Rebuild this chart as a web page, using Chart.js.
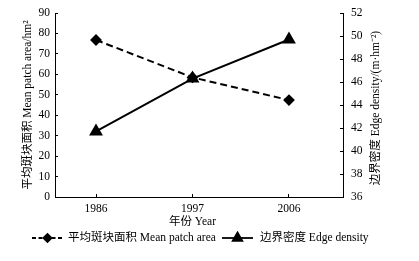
<!DOCTYPE html>
<html lang="zh">
  <head>
    <meta charset="UTF-8" />
    <title>Mean patch area and edge density</title>
    <script src="https://cdn.jsdelivr.net/npm/chart.js"></script>
    <style>
      html, body { margin: 0; padding: 0; background: #fff; }
      #wrap { width: 419px; height: 261px; }
    </style>
  </head>
  <body>
    <div id="wrap"><canvas id="chart"></canvas></div>
    <script>
      // values
      const years = ["1986", "1997", "2006"];
      const meanPatchArea = [76.8, 58.5, 47.4];
      const edgeDensity = [41.7, 46.3, 49.7];

      const leftTitle = "平均斑块面积 Mean patch area/hm²";
      const rightTitle = "边界密度 Edge density/(m·hm⁻²)";
      const xTitle = "年份 Year";
      const seriesNames = ["平均斑块面积 Mean patch area", "边界密度 Edge density"];

      const FONT = "'Liberation Serif', 'Noto Sans CJK SC', serif";

      // x title, right title (reads bottom-up like the left one) and legend
      const extraText = {
        id: "extraText",
        afterDraw(chart) {
          const { ctx, chartArea } = chart;
          const x = chart.scales.x;
          ctx.save();
          ctx.fillStyle = "#000";
          ctx.font = "11.5px " + FONT;
          ctx.textBaseline = "middle";
          ctx.textAlign = "center";
          const cx = (x.getPixelForValue(0) + x.getPixelForValue(2)) / 2;
          ctx.fillText(xTitle, cx, 222);

          ctx.save();
          ctx.translate(376, (chartArea.top + chartArea.bottom) / 2 + 3);
          ctx.rotate(-Math.PI / 2);
          ctx.fillText(rightTitle, 0, 0);
          ctx.restore();

          // legend
          const ly = 238;
          const items = [
            { x0: 32, x1: 63, text: 68, dash: [4, 2.5], ds: chart.data.datasets[0] },
            { x0: 222, x1: 253, text: 260, dash: [], ds: chart.data.datasets[1] },
          ];
          items.forEach((it, i) => {
            ctx.strokeStyle = "#000";
            ctx.lineWidth = 1.8;
            ctx.setLineDash(it.dash);
            ctx.beginPath();
            ctx.moveTo(it.x0, ly);
            ctx.lineTo(it.x1, ly);
            ctx.stroke();
            ctx.setLineDash([]);
            Chart.helpers.drawPoint(ctx, {
              pointStyle: it.ds.pointStyle,
              radius: it.ds.pointRadius - 0.5,
              borderWidth: 1,
              rotation: 0,
            }, (it.x0 + it.x1) / 2, ly);
            ctx.fillStyle = "#000";
            ctx.fill();
            ctx.textAlign = "left";
            ctx.fillText(seriesNames[i], it.text, ly);
          });
          ctx.restore();
        },
      };

      // let the layout padding alone decide where the plot starts vertically
      const noVPad = (w) => (s) => {
        s.width = w;
        s.paddingTop = 0;
        s.paddingBottom = 0;
      };

      new Chart(document.getElementById("chart"), {
        type: "line",
        data: {
          datasets: [
            {
              label: seriesNames[0],
              data: meanPatchArea.map((v, i) => ({ x: i, y: v })),
              yAxisID: "y",
              borderColor: "#000",
              backgroundColor: "#000",
              borderWidth: 2,
              borderDash: [7, 4],
              pointStyle: "rectRot",
              pointRadius: 4.5,
              tension: 0,
            },
            {
              label: seriesNames[1],
              data: edgeDensity.map((v, i) => ({ x: i, y: v })),
              yAxisID: "y1",
              borderColor: "#000",
              backgroundColor: "#000",
              borderWidth: 2,
              pointStyle: "triangle",
              pointRadius: 6,
              tension: 0,
            },
          ],
        },
        options: {
          responsive: true,
          maintainAspectRatio: false,
          animation: false,
          layout: { padding: { top: 13, bottom: 30, left: 0, right: 0 } },
          plugins: { legend: { display: false }, tooltip: { enabled: false } },
          scales: {
            x: {
              type: "linear",
              min: -0.425,
              max: 2.56,
              afterBuildTicks: (s) => {
                s.ticks = years.map((y, i) => ({ value: i }));
              },
              afterFit: (s) => { s.height = 34; },
              grid: { drawOnChartArea: false, tickLength: -3, color: "#000" },
              border: { display: true, color: "#000", width: 1 },
              ticks: {
                padding: 8,
                color: "#000",
                font: { family: FONT, size: 11.5 },
                callback: (v) => years[v],
              },
            },
            y: {
              position: "left",
              min: 0,
              max: 90,
              afterFit: noVPad(55),
              grid: { drawOnChartArea: false, tickLength: -3, color: "#000" },
              border: { display: true, color: "#000", width: 1 },
              ticks: { stepSize: 10, padding: 8, color: "#000", font: { family: FONT, size: 11.5 } },
              title: {
                display: true,
                text: leftTitle,
                color: "#000",
                font: { family: FONT, size: 11.5 },
                padding: { top: 21, bottom: 21 },
              },
            },
            y1: {
              position: "right",
              min: 36,
              max: 52,
              afterFit: noVPad(76),
              grid: { drawOnChartArea: false, tickLength: -3, color: "#000" },
              border: { display: true, color: "#000", width: 1 },
              ticks: { stepSize: 2, padding: 11, color: "#000", font: { family: FONT, size: 11.5 } },
            },
          },
        },
        plugins: [extraText],
      });
    </script>
  </body>
</html>
